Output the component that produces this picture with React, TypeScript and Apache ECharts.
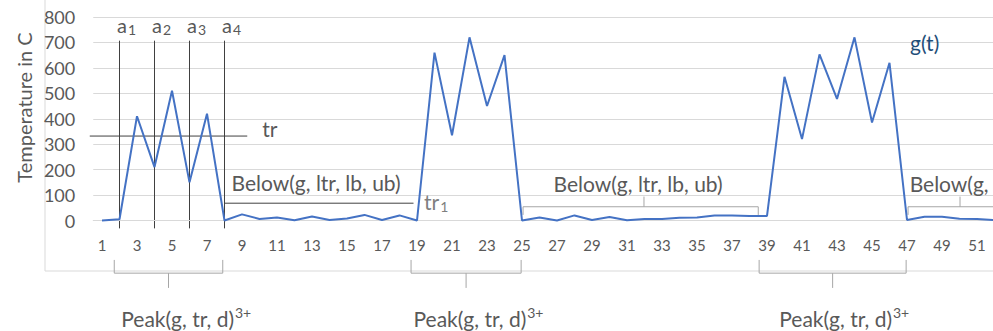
import React, { useEffect, useRef } from "react";
import * as echarts from "echarts";

const categories = ["1","2","3","4","5","6","7","8","9","10","11","12","13","14","15","16","17","18","19","20","21","22","23","24","25","26","27","28","29","30","31","32","33","34","35","36","37","38","39","40","41","42","43","44","45","46","47","48","49","50","51","52"];
const gValues = [0,5,410,210,510,150,420,0,24,6,12,1,16,2,8,22,2,20,0,660,335,720,450,650,0,12,0,20,2,14,1,6,6,11,12,20,20,18,18,565,320,653,478,720,385,620,2,15,15,7,6,2];

// annotation anchors (category positions, 1-based; values in axis units)
const aMarkers = [2, 4, 6, 8];
const aLabels = ["1", "2", "3", "4"];
const trValue = 332;
const trSpan = [0.3, 9.3];
const belowLine = { from: 8, to: 18.8, value: 68, labelAt: 8.4 };
const belowBrackets = [
  { from: 25.06, to: 38.5, tick: 31.97, labelAt: 26.8 },
  { from: 47.06, to: 53.6, tick: 50.03, labelAt: 47.15 },
];
const peakBrackets = [
  { from: 1.7, to: 7.9, labelAt: 2.1 },
  { from: 18.66, to: 24.95, labelAt: 18.8 },
  { from: 38.55, to: 46.95, labelAt: 39.7 },
];

const FONT = "Lato";
const TXT = "#595959";

export default function App() {
  const ref = useRef<HTMLDivElement>(null);
  useEffect(() => {
    document.body.style.margin = "0";
    const chart = echarts.init(ref.current!, null, { renderer: "svg" });
    chart.setOption({
      animation: false,
      grid: { left: 93.25, top: 17, width: categories.length * 17.5, height: 203.5, outerBoundsMode: "none", containLabel: false },
      xAxis: {
        type: "category",
        data: categories,
        boundaryGap: true,
        axisLine: { lineStyle: { color: "#d9d9d9" } },
        axisTick: { show: false },
        axisLabel: { interval: 1, color: TXT, fontSize: 15, fontFamily: FONT, margin: 17 },
      },
      yAxis: {
        type: "value",
        min: 0,
        max: 800,
        interval: 100,
        axisLine: { show: false },
        axisTick: { show: false },
        splitLine: { lineStyle: { color: "#d9d9d9" } },
        axisLabel: { color: TXT, fontSize: 18, fontFamily: FONT, margin: 18 },
      },
      series: [
        {
          type: "line",
          data: gValues,
          symbol: "none",
          lineStyle: { color: "#4472C4", width: 2 },
          clip: false,
        },
      ],
    });

    const p0 = chart.convertToPixel({ xAxisIndex: 0 }, 0) as number;
    const p1 = chart.convertToPixel({ xAxisIndex: 0 }, 1) as number;
    const X = (c: number) => p0 + (c - 1) * (p1 - p0);
    const Y = (v: number) => chart.convertToPixel({ yAxisIndex: 0 }, v) as number;

    const FS = 21;
    const g: any[] = [];
    g.push({ type: "rect", z: -10, shape: { x: 45, y: -5, width: 1000, height: 276 }, style: { fill: "none", stroke: "#d9d9d9", lineWidth: 1 } });
    g.push({
      type: "text", x: 24, y: 107.5, rotation: Math.PI / 2,
      style: { text: "Temperature in C", fill: TXT, fontSize: 20, fontFamily: FONT, align: "center", verticalAlign: "middle" },
    });
    const subRich = {
      m: { fontSize: 20, fontFamily: FONT, fill: TXT, lineHeight: 22 },
      s: { fontSize: 14, fontFamily: FONT, fill: TXT, padding: [9, 0, 0, 1] },
    };
    aMarkers.forEach((c, i) => {
      g.push({ type: "line", shape: { x1: X(c), y1: Y(707), x2: X(c), y2: Y(-31) }, style: { stroke: "#404040", lineWidth: 1 } });
      g.push({
        type: "text", x: X(c) - 2.5, y: Y(770),
        style: { text: `{m|a}{s|${aLabels[i]}}`, rich: subRich, align: "left", verticalAlign: "middle" },
      });
    });
    g.push({ type: "line", shape: { x1: X(trSpan[0]), y1: Y(trValue), x2: X(trSpan[1]), y2: Y(trValue) }, style: { stroke: "#404040", lineWidth: 1 } });
    g.push({ type: "text", x: X(10.15), y: Y(363), style: { text: "tr", fill: TXT, fontSize: FS, fontFamily: FONT, align: "left", verticalAlign: "middle" } });

    g.push({ type: "line", shape: { x1: X(belowLine.from), y1: Y(belowLine.value), x2: X(belowLine.to), y2: Y(belowLine.value) }, style: { stroke: "#404040", lineWidth: 1 } });
    g.push({ type: "text", x: X(belowLine.labelAt), y: Y(150), style: { text: "Below(g, ltr, lb, ub)", fill: TXT, fontSize: FS, fontFamily: FONT, align: "left", verticalAlign: "middle" } });
    g.push({
      type: "text", x: X(19.4), y: Y(74),
      style: {
        text: "{m|tr}{s|1}", align: "left", verticalAlign: "middle",
        rich: {
          m: { fontSize: FS, fontFamily: FONT, fill: "#7f7f7f", lineHeight: 24 },
          s: { fontSize: 14, fontFamily: FONT, fill: "#7f7f7f", padding: [10, 0, 0, 1] },
        },
      },
    });

    const BR = "#a6a6a6";
    belowBrackets.forEach((b) => {
      g.push({ type: "polyline", shape: { points: [[X(b.from), Y(22)], [X(b.from), Y(54)], [X(b.to), Y(54)], [X(b.to), Y(22)]] }, style: { stroke: BR, lineWidth: 1, fill: "none" } });
      g.push({ type: "line", shape: { x1: X(b.tick), y1: Y(54), x2: X(b.tick), y2: Y(94) }, style: { stroke: BR, lineWidth: 1 } });
      g.push({ type: "text", x: X(b.labelAt), y: Y(147), style: { text: "Below(g, ltr, lb, ub)", fill: TXT, fontSize: FS, fontFamily: FONT, align: "left", verticalAlign: "middle" } });
    });

    peakBrackets.forEach((b) => {
      const mid = (b.from + b.to) / 2;
      g.push({ type: "polyline", shape: { points: [[X(b.from), Y(-155)], [X(b.from), Y(-207)], [X(b.to), Y(-207)], [X(b.to), Y(-155)]] }, style: { stroke: BR, lineWidth: 1, fill: "none" } });
      g.push({ type: "line", shape: { x1: X(mid), y1: Y(-207), x2: X(mid), y2: Y(-265) }, style: { stroke: BR, lineWidth: 1 } });
      g.push({
        type: "text", x: X(b.labelAt), y: Y(-384),
        style: {
          text: "{m|Peak(g, tr, d)}{s|3+}", align: "left", verticalAlign: "middle",
          rich: {
            m: { fontSize: FS, fontFamily: FONT, fill: TXT, lineHeight: 26 },
            s: { fontSize: 14, fontFamily: FONT, fill: TXT, padding: [0, 0, 11, 1] },
          },
        },
      });
    });

    g.push({ type: "text", x: X(47.17), y: Y(698), style: { text: "g(t)", fill: "#1F4E79", fontSize: FS, fontFamily: FONT, align: "left", verticalAlign: "middle" } });

    chart.setOption({ graphic: g });
    return () => chart.dispose();
  }, []);
  return <div ref={ref} style={{ position: "absolute", left: 0, top: 0, width: 993, height: 331 }} />;
}
